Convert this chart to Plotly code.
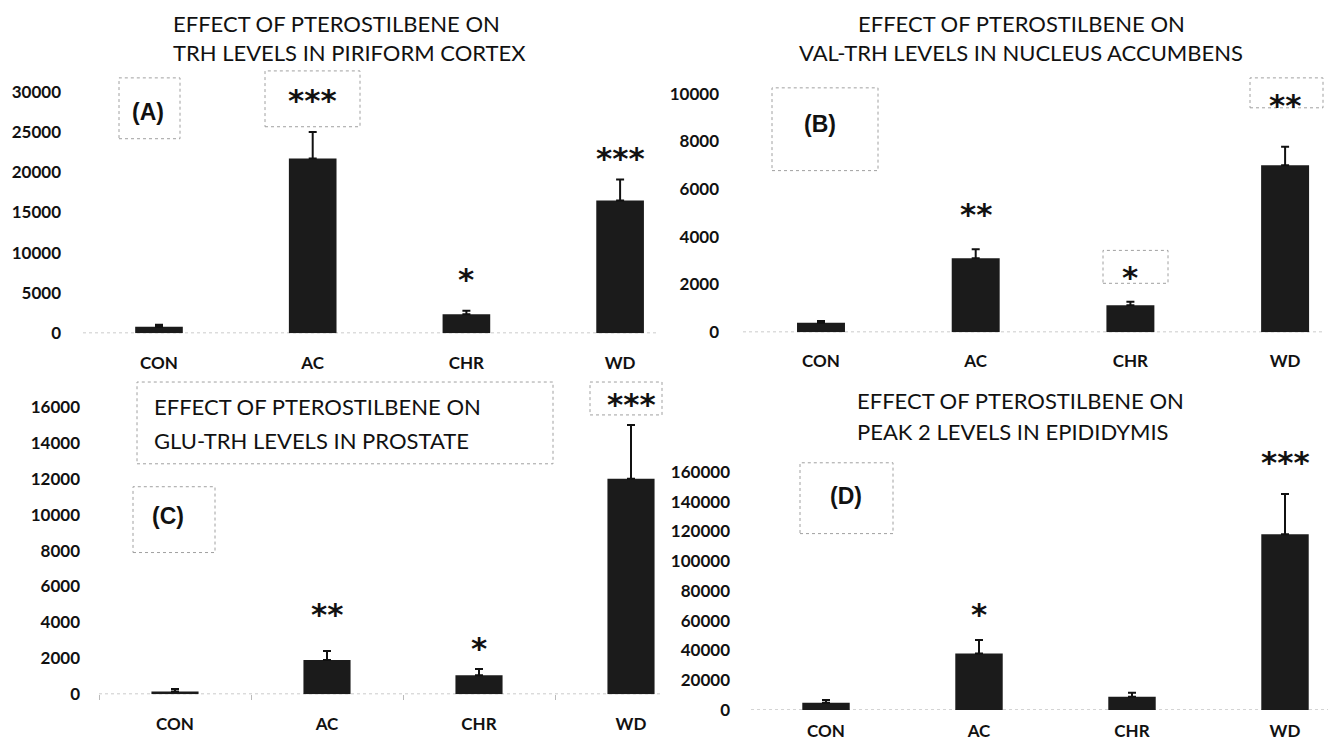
import plotly.graph_objects as go

# Calibration (measured with test renders): the page keeps an 8px body margin and the
# photographed region is 754 page px tall squeezed into 746, x is 1:1.
OFF = 8
SY = 754 / 746
W, H = 1327, 746

# ---------------- data ----------------
categories = ["CON", "AC", "CHR", "WD"]

trh_piriform = [800, 21700, 2350, 16500]
trh_piriform_err = [250, 3300, 450, 2600]
trh_piriform_sig = ["", "***", "*", "***"]

valtrh_accumbens = [400, 3100, 1130, 7000]
valtrh_accumbens_err = [70, 380, 150, 780]
valtrh_accumbens_sig = ["", "**", "*", "**"]

glutrh_prostate = [150, 1900, 1050, 12000]
glutrh_prostate_err = [130, 500, 350, 3000]
glutrh_prostate_sig = ["", "**", "*", "***"]

peak2_epididymis = [5000, 38000, 9000, 118000]
peak2_epididymis_err = [1800, 9000, 2700, 27000]
peak2_epididymis_sig = ["", "*", "", "***"]

titles_A = ["EFFECT OF PTEROSTILBENE ON", "TRH LEVELS IN PIRIFORM CORTEX"]
titles_B = ["EFFECT OF PTEROSTILBENE ON", "VAL-TRH LEVELS IN NUCLEUS ACCUMBENS"]
titles_C = ["EFFECT OF PTEROSTILBENE ON", "GLU-TRH LEVELS IN PROSTATE"]
titles_D = ["EFFECT OF PTEROSTILBENE ON", "PEAK 2 LEVELS IN EPIDIDYMIS"]

# ---------------- layout helpers ----------------
def px(x):
    return (x - OFF) / W

def py(y):
    return 1 - (y * SY - OFF) / H

TITLE_FONT = dict(family="Lato, Open Sans, sans-serif", size=22, color="#111")
TICK_FONT = dict(family="Lato, Open Sans, sans-serif", size=17, color="#111", weight="bold")
STAR_FONT = dict(family="DejaVu Sans, sans-serif", size=31, color="#111", weight="bold")
LABEL_FONT = dict(family="Liberation Sans, Arial, sans-serif", size=23, color="#111", weight="bold")

panels = [
    dict(vals=trh_piriform, err=trh_piriform_err, sig=trh_piriform_sig,
         xl=83, xr=656, c0=159, step=153.7, base=334, tick_px=92, tick_val=30000, dtick=5000,
         top_px=78, xstand=18, ystand=21, star_y=[None, 100, 280, 158],
         titles=titles_A, title_x=171, title_y=[23, 53], title_anchor="left",
         label="(A)", label_xy=(148, 112), label_box=(119, 78, 180, 139),
         boxes=[(265, 71, 360, 127)], bound_ticks=False),
    dict(vals=valtrh_accumbens, err=valtrh_accumbens_err, sig=valtrh_accumbens_sig,
         xl=743, xr=1324, c0=821, step=154.7, base=333, tick_px=94, tick_val=10000, dtick=2000,
         top_px=80, xstand=17, ystand=23, star_y=[None, 215, 278, 105],
         titles=titles_B, title_x=1021, title_y=[23, 53], title_anchor="center",
         label="(B)", label_xy=(820, 124), label_box=(772, 88, 878, 171),
         boxes=[(1103, 251, 1168, 284), (1250, 78, 1323, 108)], bound_ticks=False),
    dict(vals=glutrh_prostate, err=glutrh_prostate_err, sig=glutrh_prostate_sig,
         xl=99, xr=660, c0=175, step=152, base=696, tick_px=408, tick_val=16000, dtick=2000,
         top_px=395, xstand=18, ystand=18, star_y=[None, 616, 650, 405],
         titles=titles_C, title_x=152, title_y=[408, 442], title_anchor="left",
         label="(C)", label_xy=(168, 517), label_box=(133, 488, 215, 554),
         boxes=[(137, 383, 553, 465), (590, 383, 662, 416)], bound_ticks=True),
    dict(vals=peak2_epididymis, err=peak2_epididymis_err, sig=peak2_epididymis_sig,
         xl=751, xr=1328, c0=826, step=153, base=712, tick_px=473, tick_val=160000, dtick=20000,
         top_px=462, xstand=9, ystand=20, star_y=[None, 616, None, 463],
         titles=titles_D, title_x=855, title_y=[402, 433], title_anchor="left",
         label="(D)", label_xy=(846, 497), label_box=(800, 464, 893, 535),
         boxes=[], bound_ticks=False),
]

fig = go.Figure()
annotations = []
shapes = []

for i, p in enumerate(panels, start=1):
    xa = "x" if i == 1 else f"x{i}"
    ya = "y" if i == 1 else f"y{i}"
    xname = "xaxis" if i == 1 else f"xaxis{i}"
    yname = "yaxis" if i == 1 else f"yaxis{i}"

    fig.add_trace(go.Bar(
        x=categories, y=p["vals"], xaxis=xa, yaxis=ya,
        width=0.31, marker=dict(color="#1b1b1b", line=dict(width=0)),
        error_y=dict(type="data", symmetric=False, array=p["err"],
                     arrayminus=[0] * len(p["err"]), color="#111",
                     thickness=2, width=4),
        showlegend=False, hoverinfo="x+y",
    ))

    xrange = [(p["xl"] - p["c0"]) / p["step"], (p["xr"] - p["c0"]) / p["step"]]
    ymax = p["tick_val"] * (p["base"] - p["top_px"]) / (p["base"] - p["tick_px"])

    xaxis = dict(
        domain=[px(p["xl"]), min(1.0, px(p["xr"]))], anchor=ya, type="category",
        categoryorder="array", categoryarray=categories,
        range=xrange, showgrid=False, zeroline=False, showline=False,
        tickfont=TICK_FONT, ticklabelstandoff=p["xstand"],
        ticks="", fixedrange=True,
    )
    if p["bound_ticks"]:
        xaxis.update(tickson="boundaries", ticks="outside", ticklen=5,
                     tickcolor="#bbbbbb", tickwidth=1)
    yaxis = dict(
        domain=[py(p["base"]), py(p["top_px"])], anchor=xa,
        range=[0, ymax], dtick=p["dtick"], tick0=0,
        showgrid=False, zeroline=False, showline=False, ticks="",
        tickfont=TICK_FONT, ticklabelstandoff=p["ystand"],
        tickformat="d", fixedrange=True,
    )
    fig.update_layout(**{xname: xaxis, yname: yaxis})

    # dotted baseline
    shapes.append(dict(type="line", xref=f"{xa} domain", yref=ya,
                       x0=0, x1=1, y0=0, y1=0,
                       line=dict(color="#9a9a9a", width=1, dash="dot"), layer="below"))

    # significance stars
    for cat, s, sy in zip(categories, p["sig"], p["star_y"]):
        if s and sy is not None:
            annotations.append(dict(x=cat, xref=xa, y=py(sy), yref="paper",
                                    text=s, showarrow=False, font=STAR_FONT,
                                    xanchor="center", yanchor="middle"))

    # titles (two lines)
    for t, ty in zip(p["titles"], p["title_y"]):
        annotations.append(dict(x=px(p["title_x"]), y=py(ty), xref="paper", yref="paper",
                                text=t, showarrow=False, font=TITLE_FONT,
                                xanchor=p["title_anchor"], yanchor="middle"))

    # panel label and its dotted box
    lx, ly = p["label_xy"]
    annotations.append(dict(x=px(lx), y=py(ly), xref="paper", yref="paper",
                            text=p["label"], showarrow=False, font=LABEL_FONT,
                            xanchor="center", yanchor="middle"))
    bx0, by0, bx1, by1 = p["label_box"]
    shapes.append(dict(type="rect", xref="paper", yref="paper",
                       x0=px(bx0), x1=px(bx1), y0=py(by1), y1=py(by0),
                       line=dict(color="#a0a0a0", width=1, dash="dot")))
    for (bx0, by0, bx1, by1) in p["boxes"]:
        shapes.append(dict(type="rect", xref="paper", yref="paper",
                           x0=px(bx0), x1=px(bx1), y0=py(by1), y1=py(by0),
                           line=dict(color="#a0a0a0", width=1, dash="dot")))

fig.update_layout(
    width=W, height=H,
    margin=dict(l=0, r=0, t=0, b=0),
    paper_bgcolor="white", plot_bgcolor="rgba(0,0,0,0)",
    annotations=annotations, shapes=shapes,
    bargap=0.6, showlegend=False,
)

fig.write_html("out.html", config={"displayModeBar": False})
